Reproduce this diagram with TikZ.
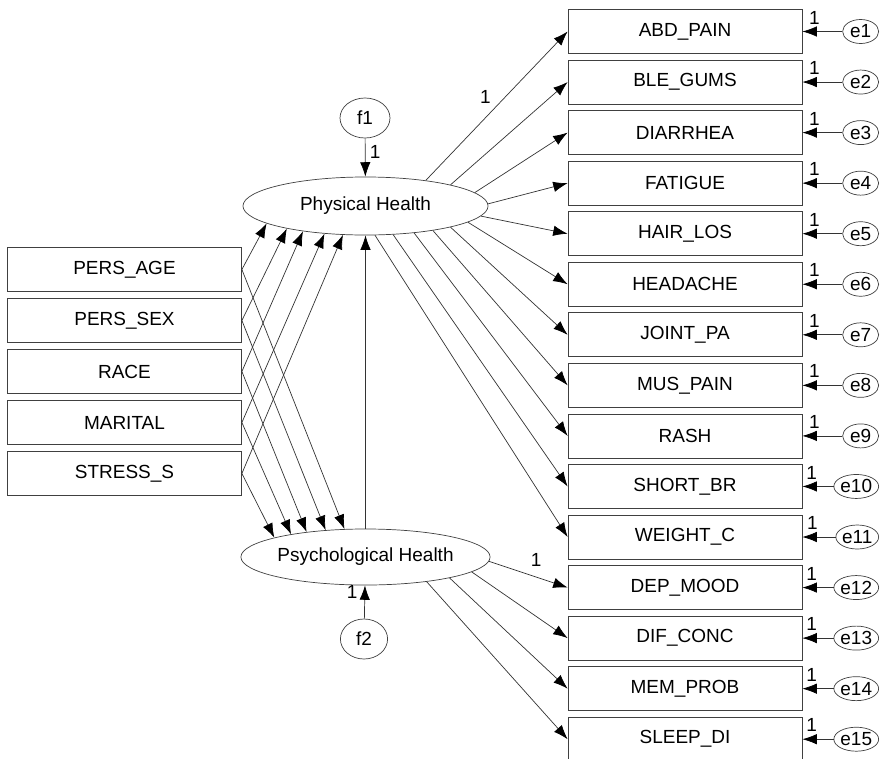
\documentclass[tikz,border=0pt]{standalone}
\usepackage{fontspec}
\setmainfont{Liberation Sans}
\usetikzlibrary{shapes.geometric,arrows.meta}

\begin{document}
\begin{tikzpicture}[x=0.025cm,y=-0.025cm,line width=.5pt,font=\fontsize{13.5}{15}\selectfont,
  obs/.style={draw=black!75,minimum width=5.85cm,minimum height=1.1cm,inner sep=0pt},
  lat/.style={draw=black!75,ellipse,minimum width=6.125cm,minimum height=1.45cm,inner sep=0pt},
  res/.style={draw=black!75,ellipse,minimum width=1.25cm,minimum height=1cm,inner sep=0pt},
  err/.style={draw=black!75,ellipse,minimum width=.9cm,minimum height=.6cm,inner sep=0pt,anchor=east},
  arr/.style={draw=black!80,-{Latex[length=3.6mm,width=2.6mm,color=black]}},
  one/.style={inner sep=1pt}]
\useasboundingbox (0,0) rectangle (882,758);
% latent variables
\node[lat] (phys) at (365.5,206) {Physical Health};
\node[lat,minimum height=1.4cm] (psych) at (365.5,557) {Psychological Health};
\node[res] (f1) at (365,118) {f1};
\node[res,minimum width=1.18cm] (f2) at (364,639) {f2};
% predictors
\node[obs] (age) at (124.5,269.5) {PERS\_AGE};
\node[obs] (sex) at (124.5,320.5) {PERS\_SEX};
\node[obs] (race) at (124.5,371.5) {RACE};
\node[obs] (marital) at (124.5,422.5) {MARITAL};
\node[obs] (stress) at (124.5,473.5) {STRESS\_S};
% indicators and their errors
\foreach \i/\t in {1/ABD\_PAIN,2/BLE\_GUMS,3/DIARRHEA,4/FATIGUE,5/HAIR\_LOS,6/HEADACHE,7/JOINT\_PA,8/MUS\_PAIN,
  9/RASH,10/SHORT\_BR,11/WEIGHT\_C,12/DEP\_MOOD,13/DIF\_CONC,14/MEM\_PROB,15/SLEEP\_DI}{
  \node[obs] (m\i) at (685,{31.5+50.55*(\i-1)}) {\t};
  \node[err] (e\i) at (879,{31.5+50.55*(\i-1)}) {e\i};
  \draw[arr] (e\i) -- node[one,pos=.7,above=4pt] {1} (m\i);
}
% loadings
\draw[arr] (phys.23) -- node[one,pos=.56,left=9pt] {1} (m1.west);
\foreach \a/\i in {14/2,7/3,1/4,355/5,351/6,346/7,340/8,331/9,314/10,288/11}
  \draw[arr] (phys.\a) -- (m\i.west);
\draw[arr] (psych.358) -- node[one,pos=.6,above=6pt] {1} (m12.west);
\foreach \a/\i in {352/13,346/14,338/15}
  \draw[arr] (psych.\a) -- (m\i.west);
% structural paths
\draw[arr] (age.east) -- (phys.190); \draw[arr] (sex.east) -- (phys.196); \draw[arr] (race.east) -- (phys.202);
\draw[arr] (marital.east) -- (phys.214); \draw[arr] (stress.east) -- (phys.232);
\draw[arr] (age.east) -- (psych.127); \draw[arr] (sex.east) -- (psych.146); \draw[arr] (race.east) -- (psych.157);
\draw[arr] (marital.east) -- (psych.163); \draw[arr] (stress.east) -- (psych.168);
\draw[arr] (psych) -- (phys);
\draw[arr] (f1) -- node[one,pos=.35,right=2pt] {1} (phys);
\draw[arr] (f2) -- node[one,pos=.8,left=4pt] {1} (psych);
\end{tikzpicture}
\end{document}
